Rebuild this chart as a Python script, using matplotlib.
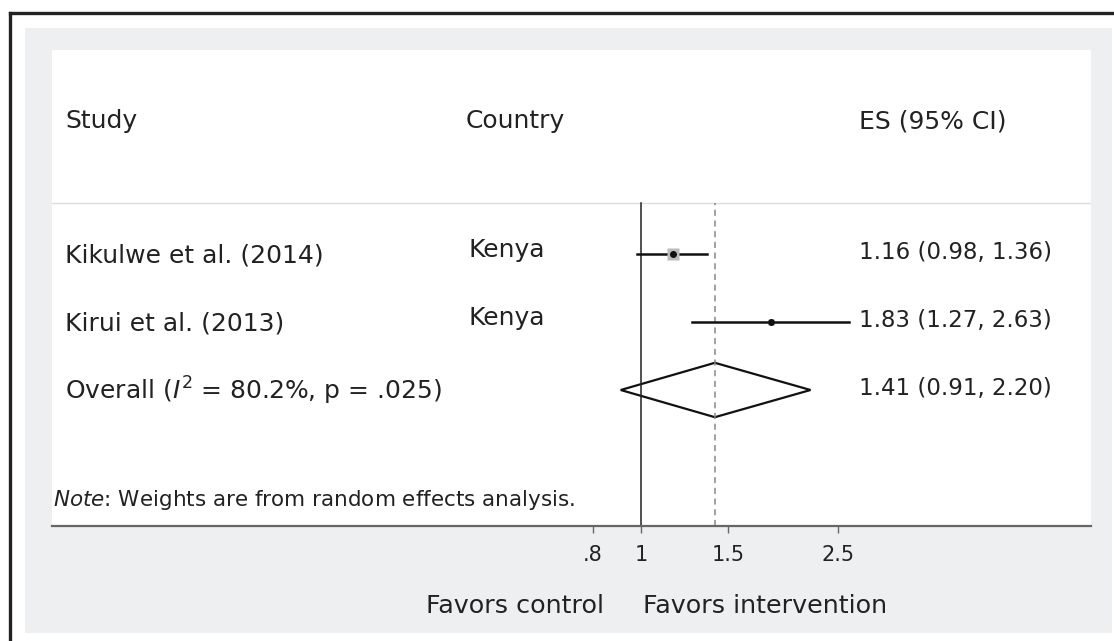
import matplotlib.pyplot as plt
from matplotlib.lines import Line2D
from matplotlib.patches import Rectangle, Polygon
from matplotlib.transforms import blended_transform_factory

# study rows, top to bottom
studies = ['Kikulwe et al. (2014)', 'Kirui et al. (2013)']
countries = ['Kenya', 'Kenya']
es = [1.16, 1.83]
ci_low = [0.98, 1.27]
ci_high = [1.36, 2.63]
box_size = [8, 4]

# pooled estimate
overall_es = 1.41
overall_low = 0.91
overall_high = 2.20
overall_label = 'Overall ($\\mathit{I}^2$ = 80.2%, p = .025)'

ticks = [0.8, 1, 1.5, 2.5]
tick_labels = ['.8', '1', '1.5', '2.5']

plt.rcParams['font.family'] = 'DejaVu Sans'
plt.rcParams['mathtext.fontset'] = 'dejavusans'

W, H = 1114, 641
fig = plt.figure(figsize=(W / 100, H / 100), dpi=100, facecolor='white')

def fx(px):
    return px / W

def fy(py):
    return 1 - py / H

# grey frame and outer border
fig.patches.append(Rectangle((fx(25), fy(633)), fx(1112) - fx(25), fy(28) - fy(633),
                             transform=fig.transFigure, facecolor='#eeeff1',
                             edgecolor='none', zorder=-5))
fig.lines.append(Line2D([fx(10), fx(10)], [fy(13), 0], transform=fig.transFigure,
                        color='#222222', lw=2.4))
fig.lines.append(Line2D([fx(10), 1], [fy(13), fy(13)], transform=fig.transFigure,
                        color='#222222', lw=2.4))

ax = fig.add_axes([fx(52), fy(526), fx(1091) - fx(52), fy(50) - fy(526)])
ax.set_zorder(2)
ax.set_facecolor('white')
ax.set_xscale('log')
ax.set_xlim(0.0646, 8.11)
ax.set_ylim(-1, 6)
for s in ['top', 'left', 'right']:
    ax.spines[s].set_visible(False)
ax.spines['bottom'].set_color('#666666')
ax.spines['bottom'].set_linewidth(1.6)
ax.set_yticks([])
ax.set_xticks(ticks)
ax.set_xticklabels(tick_labels, fontsize=15, color='#222222')
ax.minorticks_off()
ax.tick_params(axis='x', length=5, width=1, color='#666666', pad=9)

# header separator and reference lines
ax.axhline(3.75, color='#dcdcdc', lw=1)
ax.plot([1, 1], [-1, 3.75], color='#222222', lw=1.1)
ax.plot([overall_es, overall_es], [-1, 3.75], color='#888888', lw=1.1,
        linestyle=(0, (4, 3)))

rows = [3, 2]
for y, e, lo, hi, bs in zip(rows, es, ci_low, ci_high, box_size):
    ax.plot([lo, hi], [y, y], color='#111111', lw=1.8)
    ax.plot(e, y, marker='s', ms=bs, color='#bbbbbb', mec='none')
    ax.plot(e, y, marker='o', ms=4, color='#111111')

diamond = Polygon([[overall_low, 1], [overall_es, 1.4], [overall_high, 1],
                   [overall_es, 0.6]], closed=True, facecolor='white',
                  edgecolor='#111111', lw=1.6)
ax.add_patch(diamond)

tx = blended_transform_factory(fig.transFigure, ax.transData)
label_font = dict(fontsize=18, color='#222222', va='center')
num_font = dict(fontsize=16.5, color='#222222', va='center')

header_y = 4.95
ax.text(fx(65), header_y, 'Study', transform=tx, ha='left', **label_font)
ax.text(fx(466), header_y, 'Country', transform=tx, ha='left', **label_font)
ax.text(fx(859), header_y, 'ES (95% CI)', transform=tx, ha='left', **label_font)

for y, st, co, e, lo, hi in zip(rows, studies, countries, es, ci_low, ci_high):
    ax.text(fx(65), y - 0.02, st, transform=tx, ha='left', **label_font)
    ax.text(fx(468), y + 0.06, co, transform=tx, ha='left', **label_font)
    ax.text(fx(859), y + 0.02, f'{e:.2f} ({lo:.2f}, {hi:.2f})', transform=tx,
            ha='left', **num_font)

ax.text(fx(65), 1 - 0.02, overall_label, transform=tx, ha='left', **label_font)
ax.text(fx(859), 1 + 0.02, f'{overall_es:.2f} ({overall_low:.2f}, {overall_high:.2f})',
        transform=tx, ha='left', **num_font)

ax.text(fx(53), -0.62, '$\\mathit{Note}$: Weights are from random effects analysis.',
        transform=tx, ha='left', fontsize=15.5, color='#222222', va='center')

fig.text(fx(604), fy(606), 'Favors control', ha='right', va='center',
         fontsize=18.3, color='#222222')
fig.text(fx(643), fy(606), 'Favors intervention', ha='left', va='center',
         fontsize=18.3, color='#222222')

fig.savefig('out.png', dpi=100, facecolor='white')
